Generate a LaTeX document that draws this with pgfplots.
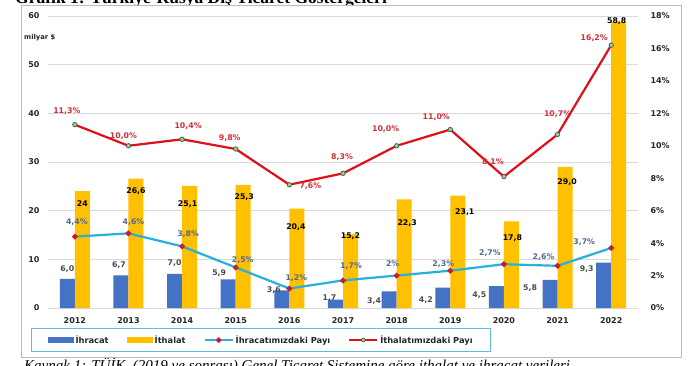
\documentclass[border=0pt]{standalone}
\usepackage{fontspec}
\setmainfont{DejaVu Sans}
\newfontfamily\seriffont{Liberation Serif}
\usepackage{pgfplots}
\usepackage{pgfplotstable}
\pgfplotsset{compat=1.18}

\definecolor{barblue}{RGB}{68,114,196}
\definecolor{baryellow}{RGB}{255,192,0}
\definecolor{cyanline}{RGB}{38,176,222}
\definecolor{redline}{RGB}{222,16,24}
\definecolor{redlabel}{RGB}{208,48,58}
\definecolor{bluelabel}{RGB}{84,104,150}
\definecolor{dotred}{RGB}{200,30,40}
\definecolor{markfill}{RGB}{170,200,160}
\definecolor{markdraw}{RGB}{60,105,75}
\definecolor{gridgray}{RGB}{217,217,217}
\definecolor{legendcyan}{RGB}{91,192,222}
\definecolor{framecol}{RGB}{175,190,210}

% Ihracat (billion $): x = category - 0.14; dx,dy = label offset in pt
\pgfplotstableread{
x y lab dx dy
-0.14 6.0 6,0 0 10
0.86 6.7 6,7 -2 10
1.86 7.0 7,0 0 11
2.86 5.9 5,9 -9 6
3.86 3.6 3,6 -8 0
4.86 1.7 1,7 -6 2
5.86 3.4 3,4 -15 -10
6.86 4.2 4,2 -17 -13
7.86 4.5 4,5 -17 -9
8.86 5.8 5,8 -20 -8
9.86 9.3 9,3 -17 -6
}\ihracat

% Ithalat (billion $): x = category + 0.14
\pgfplotstableread{
x y lab dx dy
0.14 24.0 24 0 -12
1.14 26.6 26,6 0 -12.5
2.14 25.1 25,1 -2 -18
3.14 25.3 25,3 1 -12
4.14 20.4 20,4 -1 -18
5.14 15.2 15,2 0 -2
6.14 22.3 22,3 3 -24
7.14 23.1 23,1 7 -16.5
8.14 17.8 17,8 1 -17
9.14 29.0 29,0 2 -15
10.14 58.8 58,8 -2 1
}\ithalat

% Ihracatimizdaki payi (%)
\pgfplotstableread{
x y lab dx dy
0 4.4 4,4 2 14
1 4.6 4,6 5 11
2 3.8 3,8 6 12
3 2.5 2,5 7 7
4 1.2 1,2 7 10
5 1.7 1,7 8 14
6 2.0 2 -4 12
7 2.3 2,3 -7 7
8 2.7 2,7 -14 11
9 2.6 2,6 -14 9
10 3.7 3,7 -27 6
}\ihrpay

% Ithalatimizdaki payi (%)
\pgfplotstableread{
x y lab dx dy
0 11.3 11,3 -8 14
1 10.0 10,0 -5 10
2 10.4 10,4 6 13
3 9.8 9,8 -6 11
4 7.6 7,6 21 -1
5 8.3 8,3 -1 16
6 10.0 10,0 -11 17
7 11.0 11,0 -14 12
8 8.1 8,1 -11 14
9 10.7 10,7 0 20
10 16.2 16,2 -17 7
}\ithpay

\pgfplotsset{
  lbl/.style={
    draw=none, mark=none, forget plot,
    point meta=explicit symbolic,
    nodes near coords={\pgfplotspointmeta#1},
    every node near coord/.style={anchor=center, inner sep=0pt,
      font=\bfseries\fontsize{7.8}{9}\selectfont},
  },
  base/.style={
    at={(48pt,-308pt)}, anchor=south west,
    scale only axis, width=590pt, height=292pt,
    xmin=-0.5, xmax=10.5,
    axis line style={draw=none}, major tick length=0pt,
    tick label style={font=\bfseries\fontsize{8}{9}\selectfont, text=black!85},
    /pgf/number format/assume math mode=true,
    clip=false,
  },
  lineleg/.style={legend image code/.code={\draw[mark repeat=2, mark phase=2, ##1] plot coordinates {(0pt,0pt) (14pt,0pt) (28pt,0pt)};}},
  blueleg/.style={legend image code/.code={\fill[barblue] (0pt,-2.8pt) rectangle (25pt,2.8pt);}},
  yellowleg/.style={legend image code/.code={\fill[baryellow] (0pt,-2.8pt) rectangle (25pt,2.8pt);}},
}

\begin{document}
\begin{tikzpicture}
\useasboundingbox (0pt,0pt) rectangle (698pt,-366pt);
\clip (0pt,0pt) rectangle (698pt,-366pt);

\node[anchor=base west, inner sep=0pt, font=\seriffont\bfseries\fontsize{17.5}{20}\selectfont] at (15pt,-3.5pt)
  {Grafik 1: Türkiye-Rusya Dış Ticaret Göstergeleri};
\node[anchor=base west, inner sep=0pt, font=\seriffont\itshape\fontsize{15}{18}\selectfont] at (24pt,-370pt)
  {Kaynak 1: TÜİK, (2019 ve sonrası) Genel Ticaret Sistemine göre ithalat ve ihracat verileri};

\fill[white] (21pt,-5pt) rectangle (681pt,-357pt);
\draw[framecol, line width=0.8pt] (21pt,-5pt) rectangle (681pt,-357pt);

\node[anchor=west, inner sep=0pt, font=\bfseries\fontsize{6.8}{8}\selectfont, text=black!85] at (24pt,-38pt) {milyar \$};

\begin{axis}[base,
  ymin=0, ymax=60,
  xtick={0,...,10},
  xticklabels={2012,2013,2014,2015,2016,2017,2018,2019,2020,2021,2022},
  xticklabel style={yshift=-6pt},
  ytick={0,10,...,60},
  yticklabel style={xshift=-5pt},
  ymajorgrids, grid style={gridgray, line width=0.8pt},
  legend columns=4,
  legend style={at={(axis description cs:-0.0288,-0.0685)}, anchor=north west,
    draw=legendcyan, line width=1pt,
    font=\bfseries\fontsize{8.3}{10}\selectfont, text=black!85,
    inner xsep=16pt, inner ysep=5pt,
    /tikz/every even column/.append style={column sep=16pt}},
]
\addplot[ybar, bar width=15pt, bar shift=0pt, fill=barblue, draw=none, forget plot] table[x=x,y=y] {\ihracat};
\addplot[ybar, bar width=15pt, bar shift=0pt, fill=baryellow, draw=none, forget plot] table[x=x,y=y] {\ithalat};
\addplot[lbl={}, every node near coord/.append style={text=black!70}]
  table[x expr=\thisrow{x}+\thisrow{dx}/53.636, y expr=\thisrow{y}+\thisrow{dy}/4.8667, meta=lab] {\ihracat};
\addplot[lbl={}, every node near coord/.append style={text=black}]
  table[x expr=\thisrow{x}+\thisrow{dx}/53.636, y expr=\thisrow{y}+\thisrow{dy}/4.8667, meta=lab] {\ithalat};

\addlegendimage{blueleg}
\addlegendentry{İhracat}
\addlegendimage{yellowleg}
\addlegendentry{İthalat}
\addlegendimage{lineleg, cyanline, line width=2pt, mark=*, mark size=1.6pt, mark options={fill=dotred, draw=dotred}}
\addlegendentry{İhracatımızdaki Payı}
\addlegendimage{lineleg, redline, line width=2pt, mark=*, mark size=2pt, mark options={fill=markfill, draw=markdraw, line width=0.7pt}}
\addlegendentry{İthalatımızdaki Payı}
\end{axis}

\begin{axis}[base,
  ymin=0, ymax=18,
  hide x axis,
  yticklabel pos=right,
  ytick={0,2,...,18},
  yticklabel={\pgfmathprintnumber{\tick}\%},
  yticklabel style={anchor=west, xshift=9pt},
]
\addplot[cyanline, line width=2.2pt, mark=*, mark size=1.6pt, mark options={fill=dotred, draw=dotred}] table[x=x,y=y] {\ihrpay};
\addplot[redline, line width=2.2pt, mark=*, mark size=2.2pt, mark options={fill=markfill, draw=markdraw, line width=0.8pt}] table[x=x,y=y] {\ithpay};
\addplot[lbl={\%}, every node near coord/.append style={text=bluelabel}]
  table[x expr=\thisrow{x}+\thisrow{dx}/53.636, y expr=\thisrow{y}+\thisrow{dy}/16.222, meta=lab] {\ihrpay};
\addplot[lbl={\%}, every node near coord/.append style={text=redlabel}]
  table[x expr=\thisrow{x}+\thisrow{dx}/53.636, y expr=\thisrow{y}+\thisrow{dy}/16.222, meta=lab] {\ithpay};
\end{axis}
\end{tikzpicture}
\end{document}
